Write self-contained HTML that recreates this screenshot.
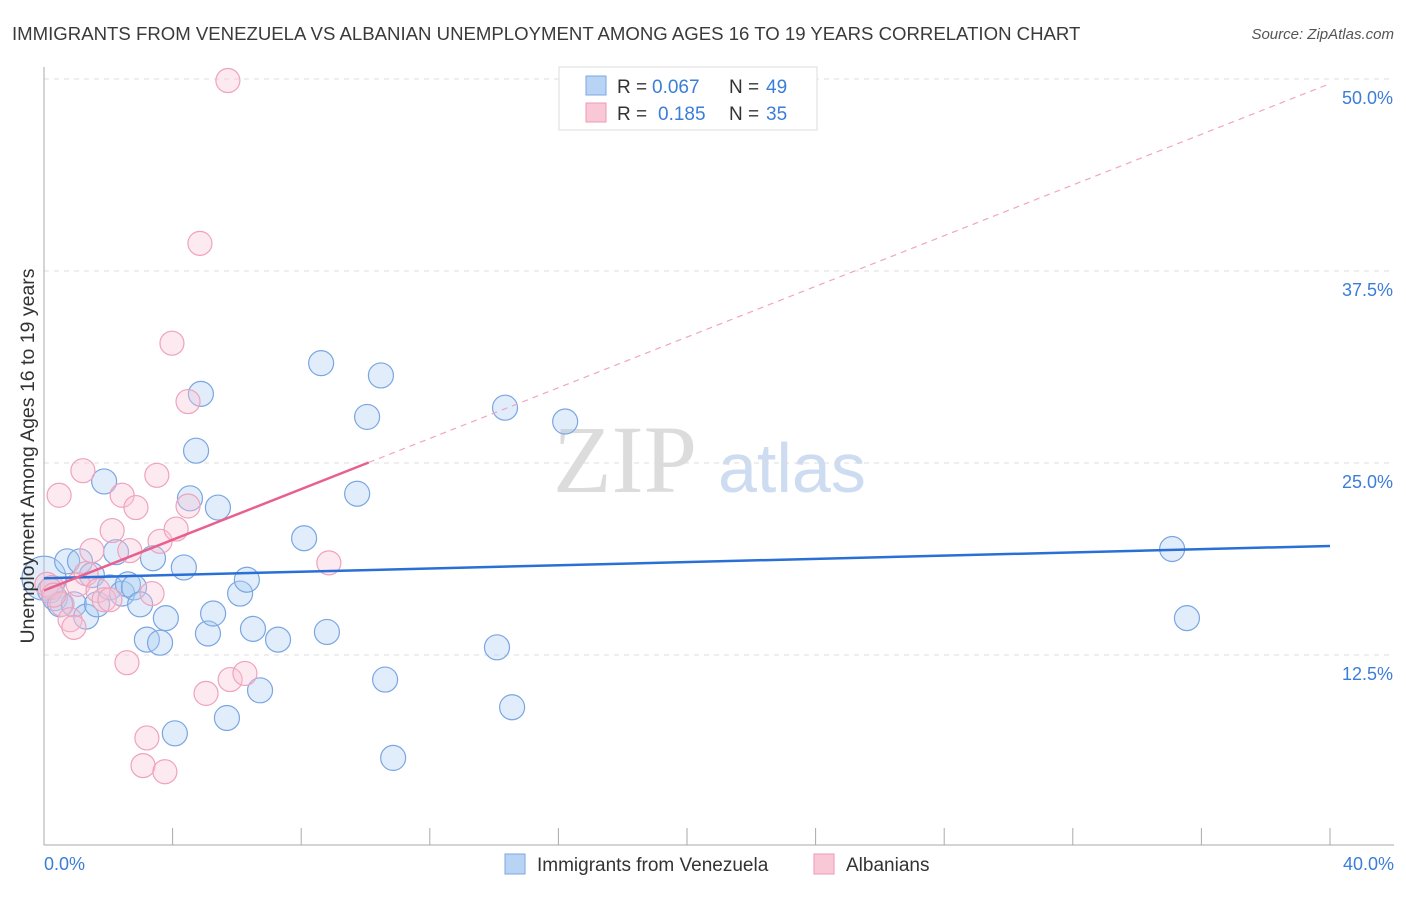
<!DOCTYPE html>
<html><head><meta charset="utf-8"><style>
body{margin:0;background:#fff;font-family:"Liberation Sans",sans-serif;}
svg text{font-family:"Liberation Sans",sans-serif;}
</style></head><body>
<svg width="1406" height="892" xmlns="http://www.w3.org/2000/svg">
<text x="12" y="40" font-size="18.6" fill="#3a3a3a">IMMIGRANTS FROM VENEZUELA VS ALBANIAN UNEMPLOYMENT AMONG AGES 16 TO 19 YEARS CORRELATION CHART</text>
<text x="1394" y="39" font-size="15" fill="#555" font-style="italic" text-anchor="end">Source: ZipAtlas.com</text>
<text x="553" y="492" font-size="96" fill="#dcdcdc" font-family="Liberation Serif" style="font-family:'Liberation Serif',serif">ZIP</text>
<text x="718" y="492" font-size="70" fill="#cddcf0">atlas</text>
<g id="grid"></g>
<g id="axes"></g>
<g id="marks"></g>
<text transform="translate(34,456) rotate(-90)" font-size="19.5" fill="#333" text-anchor="middle">Unemployment Among Ages 16 to 19 years</text>
<text x="44" y="870" font-size="18" fill="#3b7dd8">0.0%</text>
<text x="1394" y="870" font-size="18" fill="#3b7dd8" text-anchor="end">40.0%</text>
<g>
<rect x="559" y="67" width="258" height="63" fill="#fff" stroke="#ddd"/>
<rect x="586" y="76" width="20" height="19" fill="#b9d3f5" stroke="#7aa7e3"/>
<rect x="586" y="103" width="20" height="19" fill="#f9c8d7" stroke="#ee98b3"/>
<text x="617" y="93" font-size="19" fill="#333">R =</text>
<text x="652" y="93" font-size="19" fill="#3b7dd8">0.067</text>
<text x="729" y="93" font-size="19" fill="#333">N =</text>
<text x="766" y="93" font-size="19" fill="#3b7dd8">49</text>
<text x="617" y="120" font-size="19" fill="#333">R =</text>
<text x="658" y="120" font-size="19" fill="#3b7dd8">0.185</text>
<text x="729" y="120" font-size="19" fill="#333">N =</text>
<text x="766" y="120" font-size="19" fill="#3b7dd8">35</text>
</g>
<g>
<rect x="505" y="854" width="20" height="20" fill="#b9d3f5" stroke="#7aa7e3"/>
<text x="537" y="871" font-size="19" fill="#333">Immigrants from Venezuela</text>
<rect x="814" y="854" width="20" height="20" fill="#f9c8d7" stroke="#ee98b3"/>
<text x="846" y="871" font-size="19" fill="#333">Albanians</text>
</g>
</svg>
<script>
const yTicks=[12.5,25,37.5,50];
const yTickLabels=["12.5%","25.0%","37.5%","50.0%"];
const xTicks=[0,4,8,12,16,20,24,28,32,36,40];
const blueX=[0,0.19,0.34,0.5,0.72,0.93,1.12,1.31,1.49,1.65,1.87,2.05,2.24,2.43,2.61,2.8,2.99,3.2,3.39,3.61,3.79,4.07,4.35,4.54,4.73,4.88,5.1,5.26,5.41,5.69,6.1,6.31,6.5,6.72,7.28,8.09,8.62,8.8,9.74,10.05,10.48,10.61,10.86,14.09,14.34,14.56,16.21,35.09,35.55];
const blueY=[17.5,16.7,16.2,15.8,18.6,15.8,18.6,15.0,17.7,15.8,23.8,16.9,19.2,16.5,17.1,16.9,15.8,13.5,18.8,13.3,14.9,7.4,18.2,22.7,25.8,29.5,13.9,15.2,22.1,8.4,16.5,17.4,14.2,10.2,13.5,20.1,31.5,14.0,23.0,28.0,30.7,10.9,5.8,13.0,28.6,9.1,27.7,19.4,14.9];
const pinkX=[0.09,0.25,0.47,0.56,0.81,0.93,1.06,1.21,1.31,1.49,1.68,1.87,2.05,2.12,2.43,2.58,2.67,2.86,3.08,3.2,3.36,3.51,3.61,3.76,3.98,4.11,4.48,4.48,4.85,5.04,5.72,5.79,6.25,8.86,0.3];
const pinkY=[17.1,16.9,22.9,15.8,14.8,14.3,17.1,24.5,17.8,19.3,16.7,16.1,16.1,20.6,22.9,12.0,19.3,22.1,5.3,7.1,16.5,24.2,19.9,4.9,32.8,20.7,29.0,22.2,39.3,10.0,49.9,10.9,11.3,18.5,16.4];
const blueTrend=[17.5,19.6];
const pinkTrend=[16.7,0.825];
const pinkSolidEnd=10.1;

const X=v=>44+v/40*1286;
const Y=v=>847-v/50*768;
const NS="http://www.w3.org/2000/svg";
function mk(tag,attrs,parent){const e=document.createElementNS(NS,tag);for(const k in attrs)e.setAttribute(k,attrs[k]);parent.appendChild(e);return e;}
const grid=document.getElementById('grid'),axes=document.getElementById('axes'),marks=document.getElementById('marks');
yTicks.forEach((t,i)=>{
  const l=mk('line',{x1:44,x2:1394,y1:Y(t),y2:Y(t),stroke:'#ddd','stroke-dasharray':'5,5'},grid);
  
  
  const tx=mk('text',{x:1393,y:Y(t)+25,'font-size':18,fill:'#3b7dd8','text-anchor':'end'},grid);
  tx.textContent=yTickLabels[i];
  
  
});
const ax=mk('line',{x1:44,x2:1394,y1:845,y2:845,stroke:'#aaa'},axes);


const ay=mk('line',{x1:44,x2:44,y1:67,y2:845,stroke:'#aaa'},axes);


xTicks.forEach(t=>{
  const l=mk('line',{x1:X(t),x2:X(t),y1:828,y2:845,stroke:'#aaa'},axes);
  
  
});
blueX.forEach((x,i)=>{
  const c=mk('circle',{cx:X(x),cy:Y(blueY[i]),r:i===0?22:12.5,fill:'rgba(170,202,242,0.35)',stroke:'#7aa6e2','stroke-width':1.2},marks);
  
  
});
pinkX.forEach((x,i)=>{
  const c=mk('circle',{cx:X(x),cy:Y(pinkY[i]),r:12,fill:'rgba(248,196,212,0.35)',stroke:'#efa3bb','stroke-width':1.2},marks);
  
  
});
const bt=mk('line',{x1:X(0),y1:Y(blueTrend[0]),x2:X(40),y2:Y(blueTrend[1]),stroke:'#2a6fd6','stroke-width':2.5},marks);


const pd=mk('line',{x1:X(pinkSolidEnd),y1:Y(pinkTrend[0]+pinkTrend[1]*pinkSolidEnd),x2:X(40),y2:Y(pinkTrend[0]+pinkTrend[1]*40),stroke:'#f0a6bd','stroke-width':1.2,'stroke-dasharray':'6,5'},marks);


const ps=mk('line',{x1:X(0),y1:Y(pinkTrend[0]),x2:X(pinkSolidEnd),y2:Y(pinkTrend[0]+pinkTrend[1]*pinkSolidEnd),stroke:'#e8608e','stroke-width':2.5},marks);


</script>
</body></html>
